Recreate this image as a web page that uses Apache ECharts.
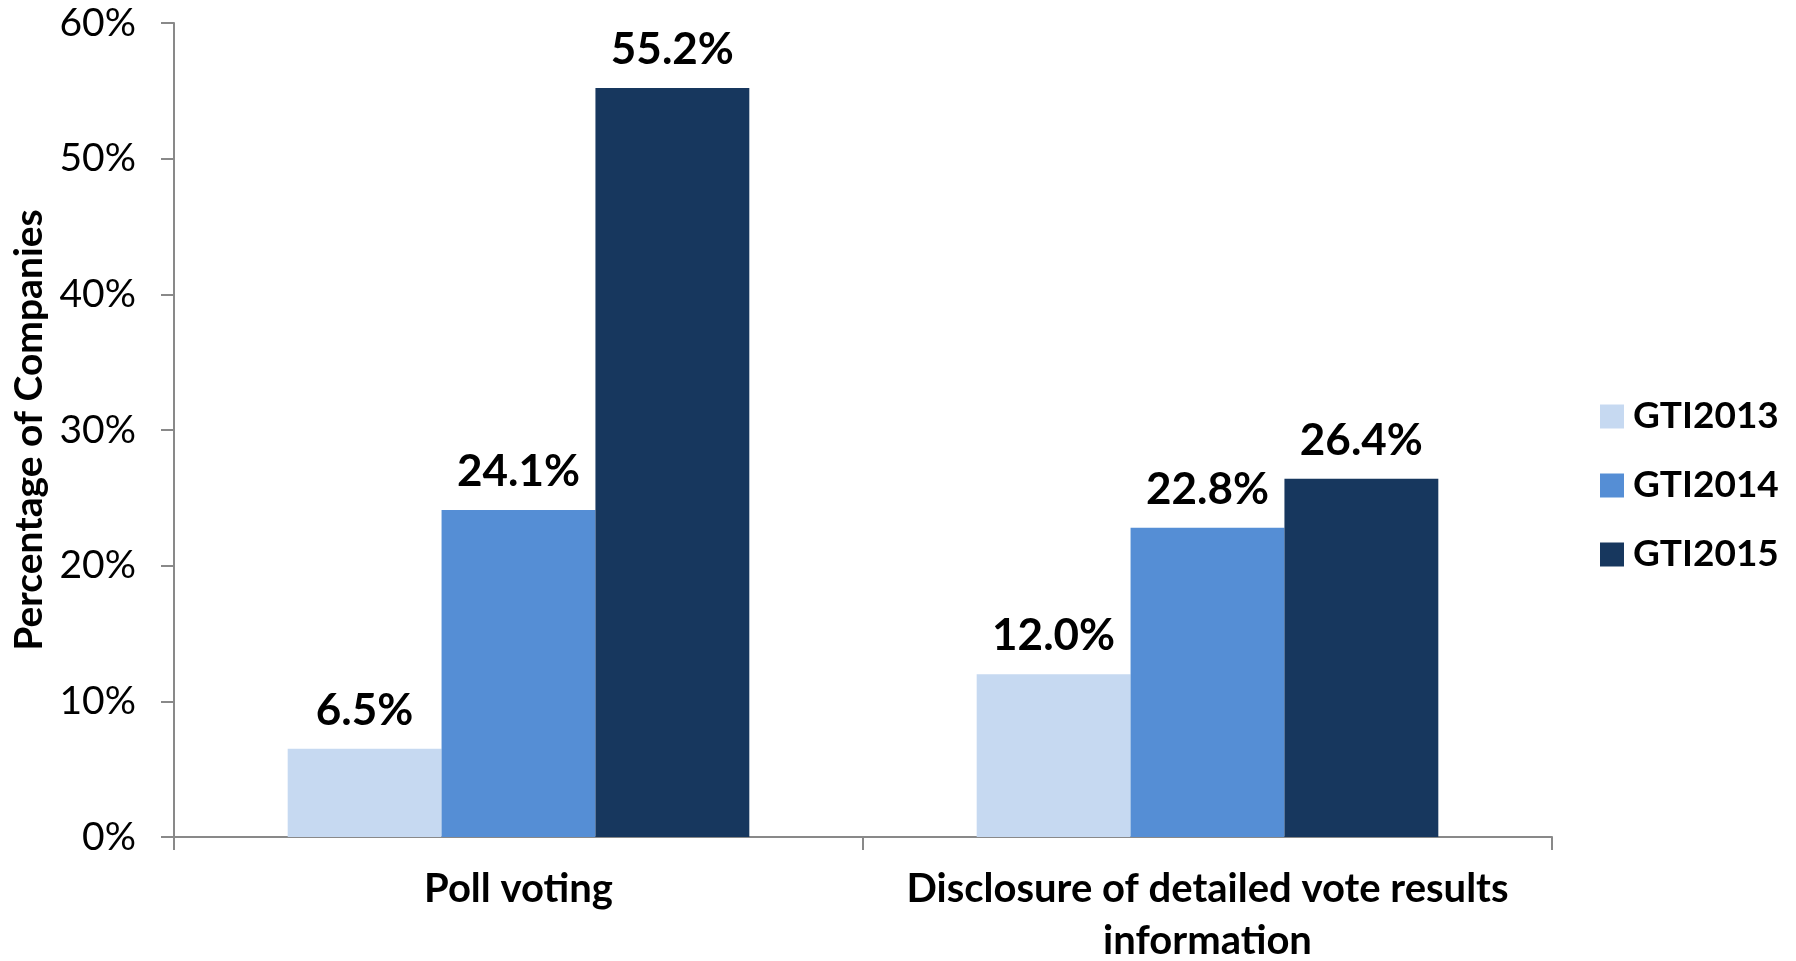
<!DOCTYPE html>
<html>
<head>
<meta charset="utf-8">
<script src="https://cdn.jsdelivr.net/npm/echarts@6/dist/echarts.min.js"></script>
<style>
  html, body { margin: 0; padding: 0; background: #ffffff; }
  #chart { width: 1796px; height: 961px; }
</style>
</head>
<body>
<div id="chart"></div>
<script>
// Governance practice adoption by index year
const categories = ['Poll voting', 'Disclosure of detailed vote results\ninformation'];
const seriesNames = ['GTI2013', 'GTI2014', 'GTI2015'];
const gti2013 = [6.5, 12.0];
const gti2014 = [24.1, 22.8];
const gti2015 = [55.2, 26.4];
const yTicks = { min: 0, max: 60, interval: 10 };

const colors = ['#c6d9f1', '#558ed5', '#17375e'];
const FONT = 'Lato, "Open Sans", "Liberation Sans", sans-serif';

const chart = echarts.init(document.getElementById('chart'));

function barSeries(name, data, color) {
  return {
    name: name,
    type: 'bar',
    data: data,
    barGap: '0%',
    barCategoryGap: '33%',
    itemStyle: { color: color },
    label: {
      show: true,
      position: 'top',
      distance: 16,
      formatter: p => p.value.toFixed(1) + '%',
      color: '#000',
      fontFamily: FONT,
      fontWeight: 'bold',
      fontSize: 44
    }
  };
}

chart.setOption({
  animation: false,
  backgroundColor: '#ffffff',
  color: colors,
  grid: { left: 174, right: 244, top: 23, bottom: 124, containLabel: false, outerBoundsMode: 'none' },
  legend: {
    orient: 'vertical',
    left: 1600,
    top: 398,
    padding: 0,
    itemWidth: 24,
    itemHeight: 24,
    itemGap: 32,
    icon: 'rect',
    data: seriesNames,
    textStyle: { fontFamily: FONT, fontWeight: 'bold', fontSize: 37, lineHeight: 24, color: '#000', padding: [0, 0, 0, 4] }
  },
  xAxis: {
    type: 'category',
    data: categories,
    axisLine: { lineStyle: { color: '#898989', width: 2 } },
    axisTick: { show: true, length: 13, lineStyle: { color: '#898989', width: 2 } },
    axisLabel: {
      margin: 26,
      interval: 0,
      color: '#000',
      fontFamily: FONT,
      fontWeight: 'bold',
      fontSize: 40,
      lineHeight: 52
    }
  },
  yAxis: {
    type: 'value',
    min: yTicks.min,
    max: yTicks.max,
    interval: yTicks.interval,
    name: 'Percentage of Companies',
    nameLocation: 'middle',
    nameRotate: 90,
    nameGap: 121,
    nameTextStyle: { fontFamily: FONT, fontWeight: 'bold', fontSize: 39, color: '#000' },
    axisLine: { show: true, lineStyle: { color: '#898989', width: 2 } },
    axisTick: { show: true, length: 13, lineStyle: { color: '#898989', width: 2 } },
    splitLine: { show: false },
    axisLabel: {
      formatter: '{value}%',
      margin: 38,
      color: '#000',
      fontFamily: FONT,
      fontSize: 39
    }
  },
  series: [
    barSeries(seriesNames[0], gti2013, colors[0]),
    barSeries(seriesNames[1], gti2014, colors[1]),
    barSeries(seriesNames[2], gti2015, colors[2])
  ]
});
</script>
</body>
</html>
